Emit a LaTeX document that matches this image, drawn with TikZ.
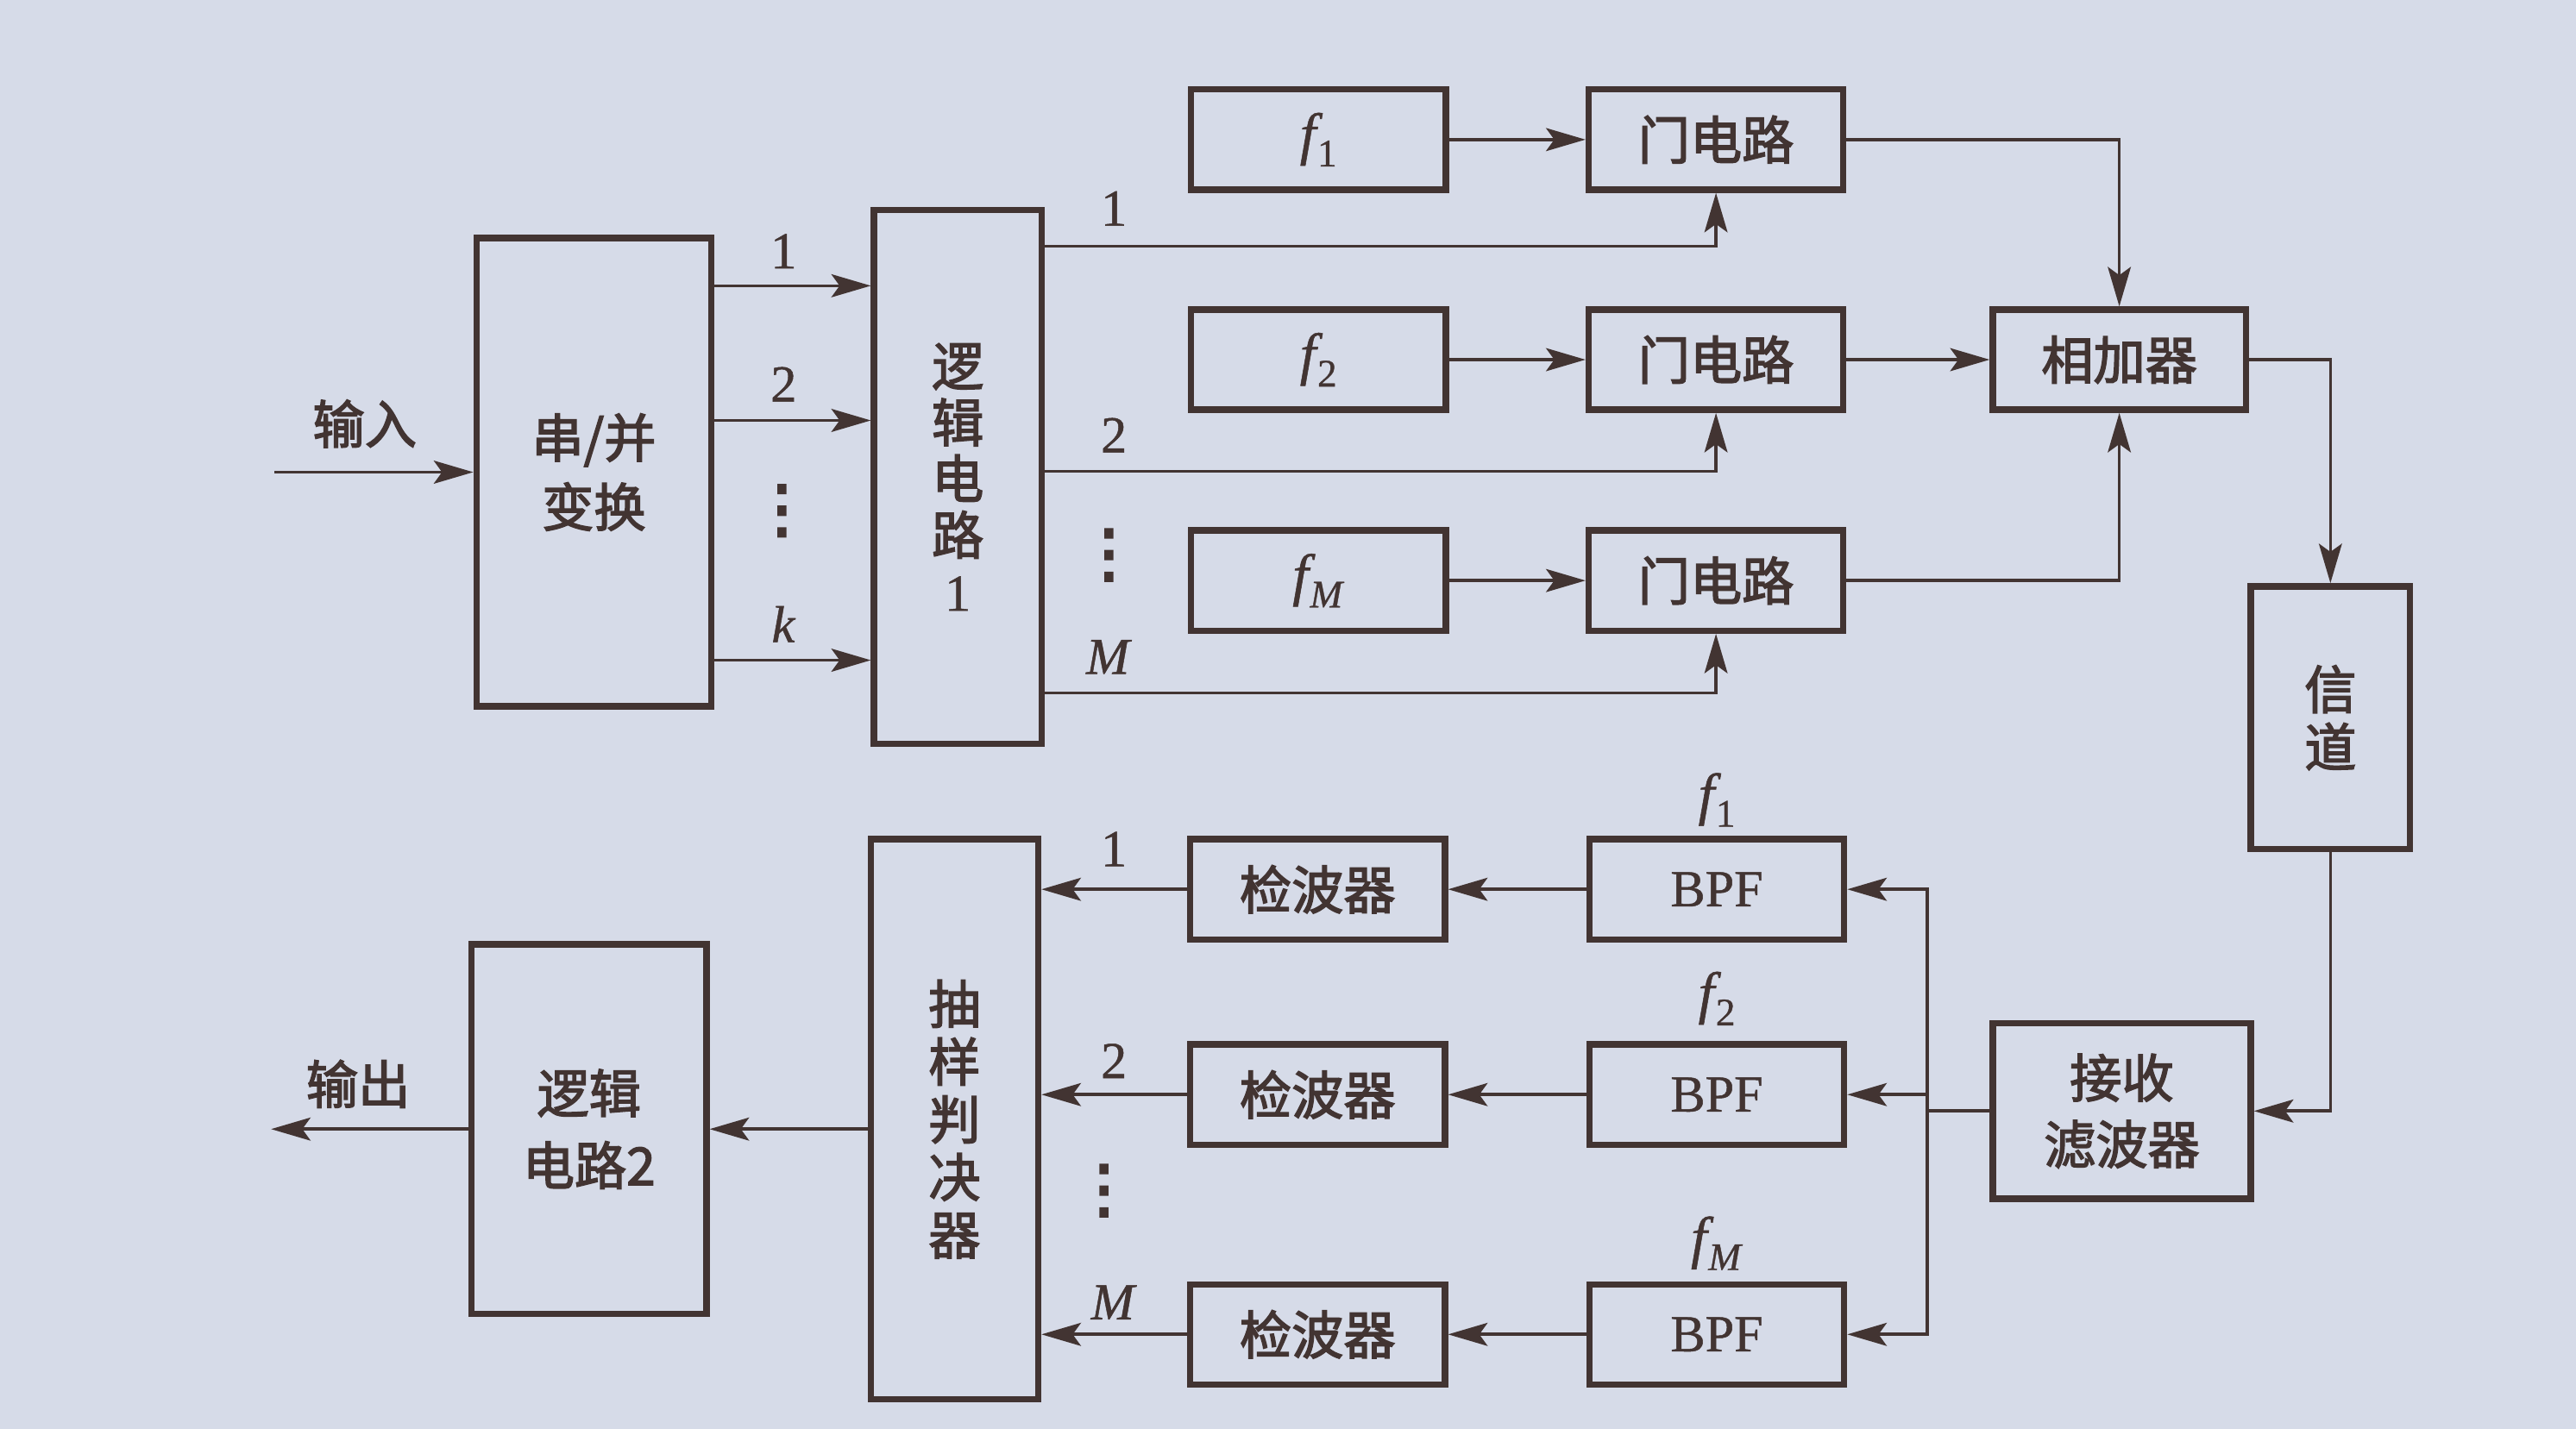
\documentclass[tikz,border=0pt]{standalone}
\usepackage{fontspec}
\setmainfont[FakeBold=0.8]{Liberation Serif}
\newfontfamily\cjk[FakeBold=2.5]{Noto Sans CJK SC}
\newfontfamily\symf[FakeBold=4]{DejaVu Sans}
\usetikzlibrary{arrows.meta,positioning,calc}
\definecolor{paper}{RGB}{214,219,232}
\definecolor{ink}{RGB}{66,52,50}
\newcommand{\fsub}[1]{{\rmfamily\fontsize{20}{22}\selectfont\itshape f}\kern0.5pt\raisebox{-4.5pt}{\rmfamily\fontsize{13.5}{14}\selectfont #1}}
\newcommand{\vdts}{{\symf\fontsize{22}{22}\selectfont ⋮}}

\begin{document}
\begin{tikzpicture}[
  color=ink,
  font=\fontsize{18}{22}\selectfont,
  box/.style={draw, line width=2.2pt, rectangle, minimum width=3.1cm, minimum height=1.22cm, align=center, font=\cjk\fontsize{18}{22}\selectfont},
  tall/.style={box, minimum width=2.04cm},
  wide/.style={box, minimum width=2.86cm},
  latin/.style={font=\fontsize{18}{22}\selectfont},
  lbl/.style={inner sep=0pt, font=\fontsize{18}{22}\selectfont},
  wire/.style={line width=1.1pt},
  arr/.style={-{Stealth[length=4.8mm, width=2.8mm, inset=1mm]}, line width=1.1pt}
]
\fill[paper] (0,0) rectangle (31.36,17.4);

\node[wide, minimum height=5.7cm, font=\cjk\fontsize{18}{24}\selectfont] (sp) at (7.23,11.65) {串/并\\变换};
\node[tall, minimum height=6.5cm, font=\cjk\fontsize{18}{19.5}\selectfont] (logic1) at (11.66,11.59) {逻\\辑\\电\\路\\{\rmfamily 1}};
\node[box, latin] (f1) at (16.05,15.7) {\fsub{1}};
\node[box, latin] (f2) at (16.05,13.02) {\fsub{2}};
\node[box, latin] (f3) at (16.05,10.33) {\fsub{\textit{M}}};
\node[box] (g1) at (20.89,15.7) {门电路};
\node[box] (g2) at (20.89,13.02) {门电路};
\node[box] (g3) at (20.89,10.33) {门电路};
\node[box, minimum width=3.08cm] (adder) at (25.8,13.02) {相加器};
\node[tall, minimum width=1.94cm, minimum height=3.2cm, font=\cjk\fontsize{18}{20}\selectfont] (chan) at (28.37,8.66) {信\\道};
\node[box, minimum width=3.14cm, minimum height=2.14cm, font=\cjk\fontsize{18}{23}\selectfont] (rx) at (25.83,3.87) {接收\\滤波器};
\node[box, latin] (bpf1) at (20.9,6.57) {BPF};
\node[box, latin] (bpf2) at (20.9,4.07) {BPF};
\node[box, latin] (bpf3) at (20.9,1.15) {BPF};
\node[box] (det1) at (16.04,6.57) {检波器};
\node[box] (det2) at (16.04,4.07) {检波器};
\node[box] (det3) at (16.04,1.15) {检波器};
\node[tall, minimum height=6.82cm, font=\cjk\fontsize{18}{20}\selectfont] (samp) at (11.62,3.77) {抽\\样\\判\\决\\器};
\node[wide, minimum height=4.5cm, font=\cjk\fontsize{18}{25}\selectfont] (logic2) at (7.17,3.65) {逻辑\\电路2};

\coordinate (in) at (3.34,11.65);
\coordinate (out) at (3.3,3.65);
\coordinate (bus) at (23.46,3.87);

\node[lbl] (inlbl) at (4.44,12.24) {\cjk 输入};
\node[lbl] (outlbl) at (4.36,4.2) {\cjk 输出};
\node[lbl] (a1) at (9.54,14.34) {1};
\node[lbl] (a2) at (9.54,12.72) {2};
\node[lbl] (adots) at (9.52,11.18) {\vdts};
\node[lbl] (ak) at (9.54,9.8) {\textit{k}};
\node[lbl] (b1) at (13.56,14.86) {1};
\node[lbl] (b2) at (13.56,12.1) {2};
\node[lbl] (bdots) at (13.5,10.64) {\vdts};
\node[lbl] (bm) at (13.5,9.4) {\textit{M}};
\node[lbl] (c1) at (20.9,7.66) {\fsub{1}};
\node[lbl] (c2) at (20.9,5.24) {\fsub{2}};
\node[lbl] (cm) at (20.9,2.26) {\fsub{\textit{M}}};
\node[lbl] (d1) at (13.56,7.06) {1};
\node[lbl] (d2) at (13.56,4.48) {2};
\node[lbl] (ddots) at (13.44,2.9) {\vdts};
\node[lbl] (dm) at (13.56,1.54) {\textit{M}};

\draw[arr] (in) -- (sp.west);
\draw[arr] ([yshift=2.27cm]sp.east) -- ([yshift=2.27cm]sp.east -| logic1.west);
\draw[arr] ([yshift=0.63cm]sp.east) -- ([yshift=0.63cm]sp.east -| logic1.west);
\draw[arr] ([yshift=-2.29cm]sp.east) -- ([yshift=-2.29cm]sp.east -| logic1.west);
\draw[arr] ([yshift=2.81cm]logic1.east) -| (g1.south);
\draw[arr] ([yshift=0.07cm]logic1.east) -| (g2.south);
\draw[arr] ([yshift=-2.63cm]logic1.east) -| (g3.south);
\draw[arr] (f1.east) -- (g1.west);
\draw[arr] (f2.east) -- (g2.west);
\draw[arr] (f3.east) -- (g3.west);
\draw[arr] (g1.east) -| (adder.north);
\draw[arr] (g2.east) -- (adder.west);
\draw[arr] (g3.east) -| (adder.south);
\draw[arr] (adder.east) -| (chan.north);
\draw[arr] (chan.south) |- (rx.east);
\draw[wire] (rx.west) -- (bus);
\draw[arr] (bus) |- (bpf1.east);
\draw[arr] (bus) |- (bpf2.east);
\draw[arr] (bus) |- (bpf3.east);
\draw[arr] (bpf1.west) -- (det1.east);
\draw[arr] (bpf2.west) -- (det2.east);
\draw[arr] (bpf3.west) -- (det3.east);
\draw[arr] (det1.west) -- (det1.west -| samp.east);
\draw[arr] (det2.west) -- (det2.west -| samp.east);
\draw[arr] (det3.west) -- (det3.west -| samp.east);
\draw[arr] (samp.west |- logic2.east) -- (logic2.east);
\draw[arr] (logic2.west) -- (out);
\end{tikzpicture}
\end{document}
